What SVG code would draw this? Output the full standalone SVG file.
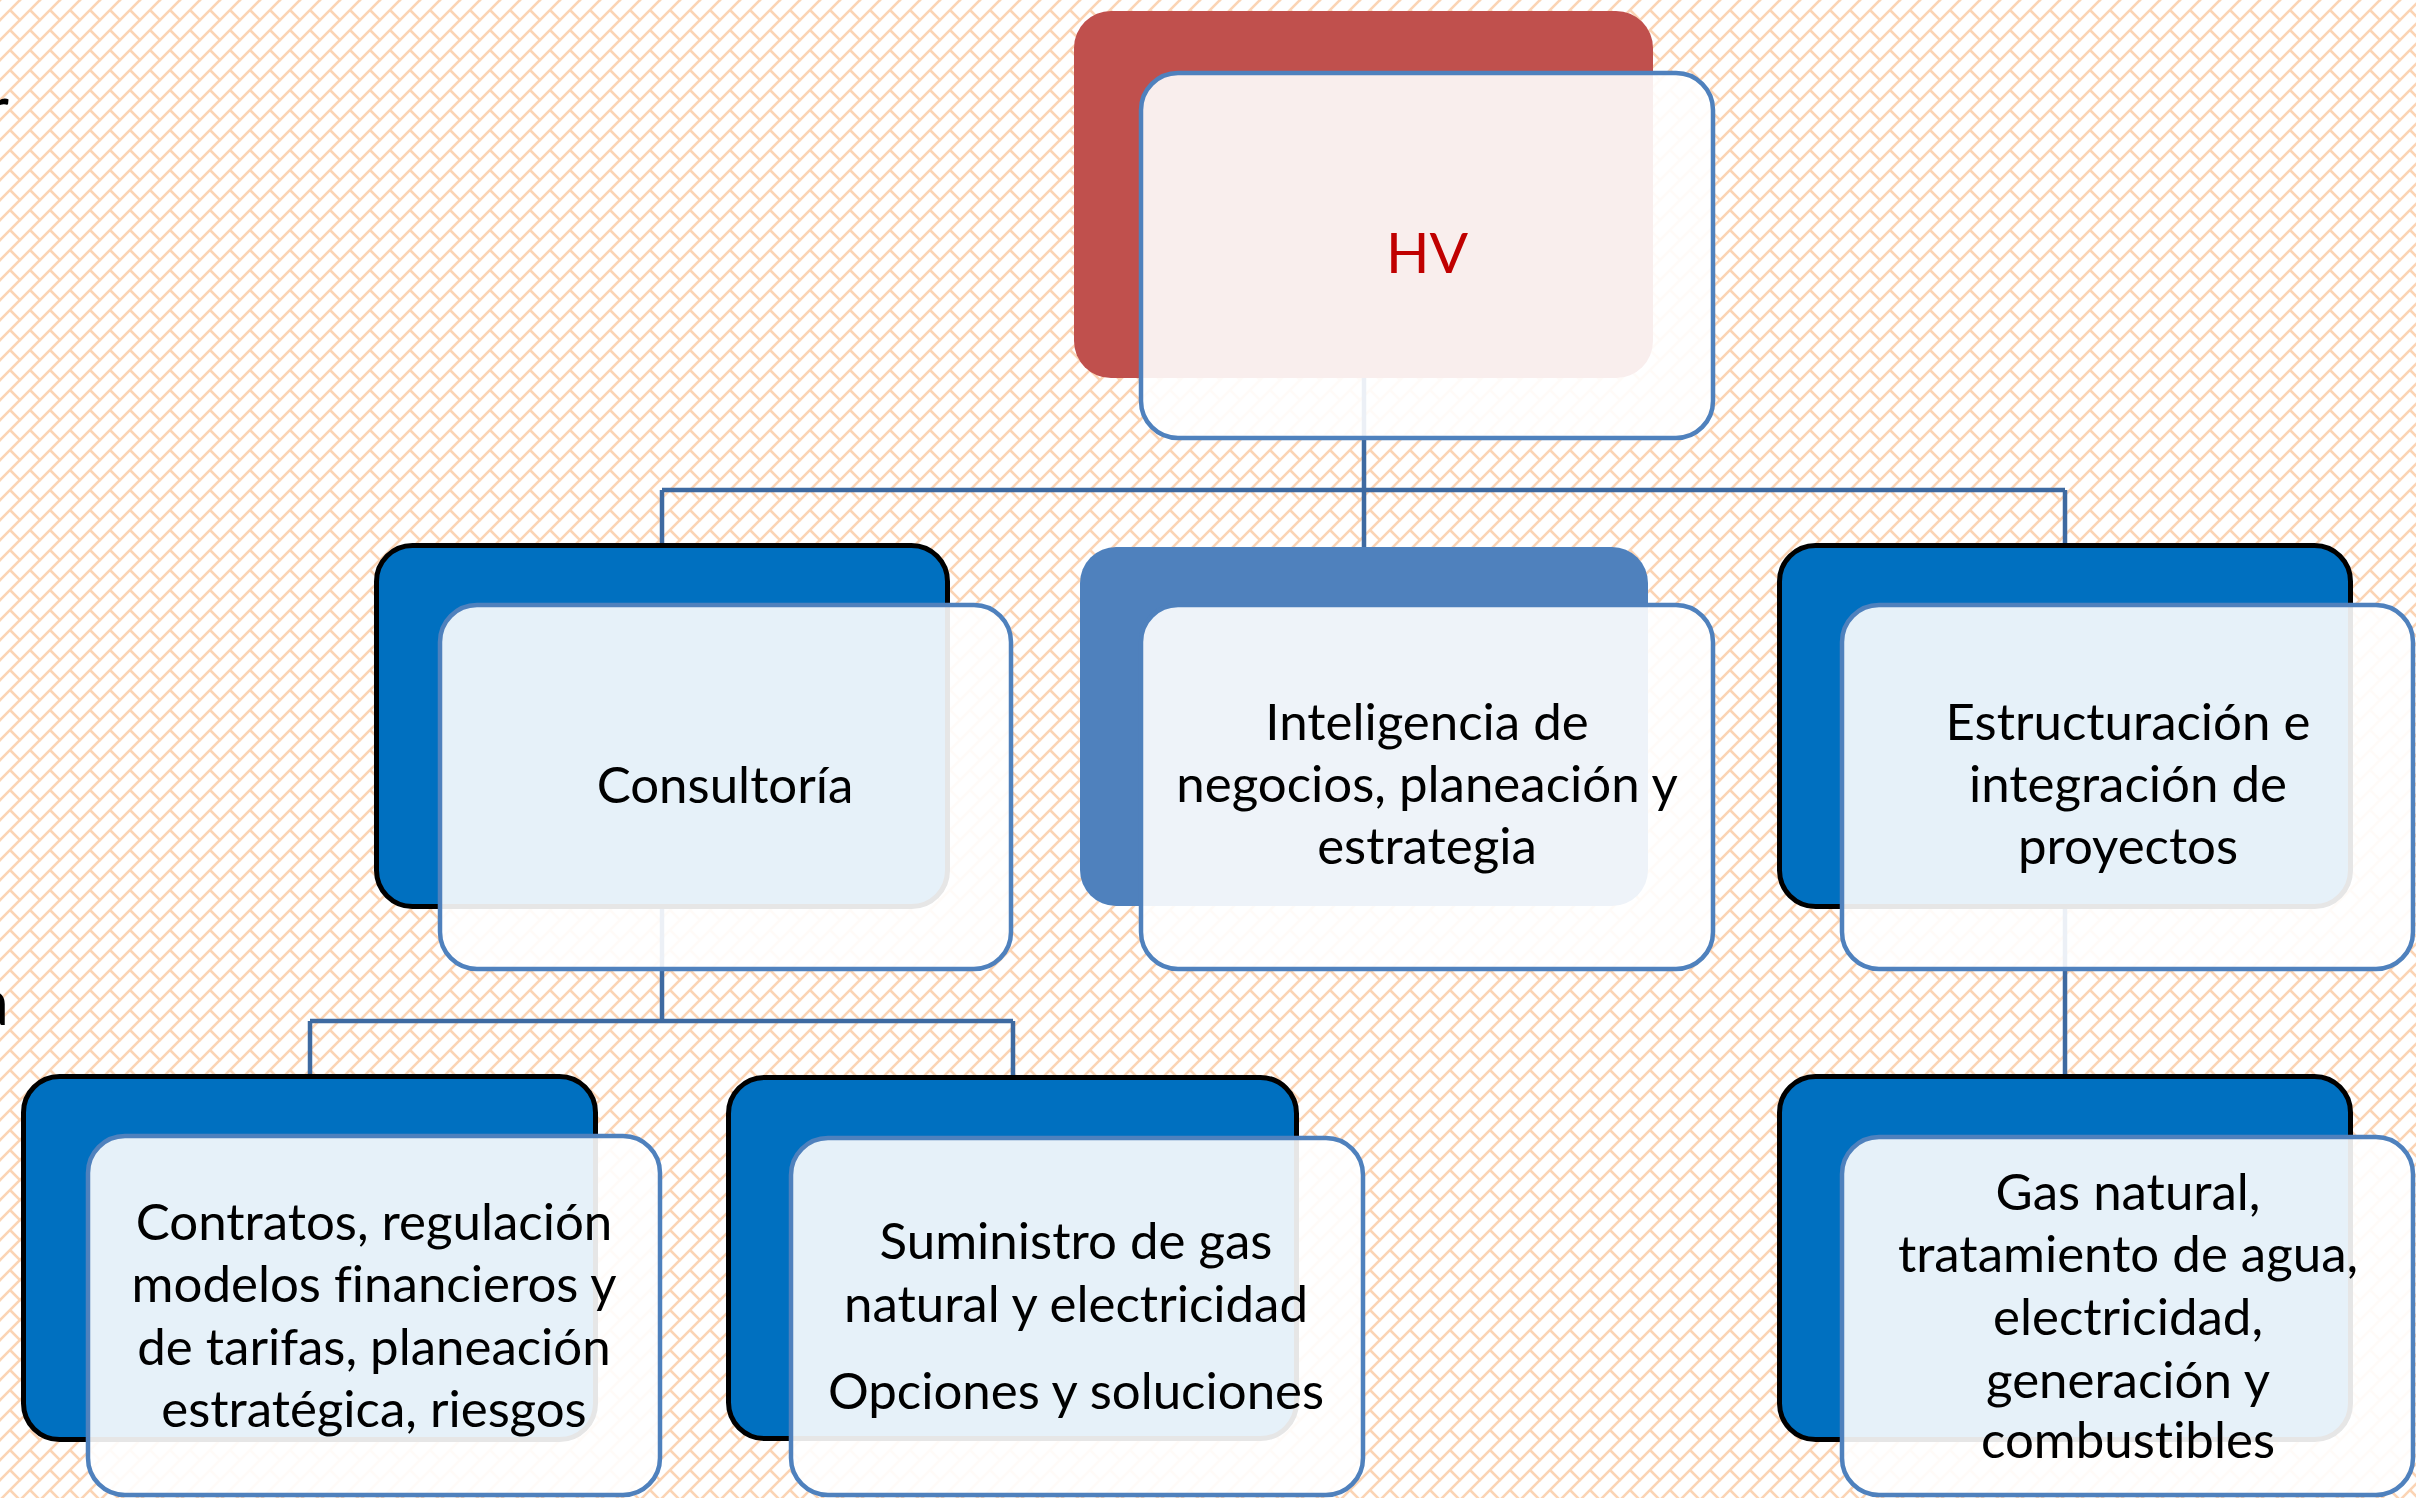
<svg xmlns="http://www.w3.org/2000/svg" width="2416" height="1498" viewBox="0 0 2416 1498">
  <defs>
    <pattern id="brick" x="0" y="0" width="20" height="20" patternUnits="userSpaceOnUse">
      <path d="M-5,25 L25,-5 M-5,5 L5,-5 M15,25 L25,15 M10,10 L21,21 M-1,-1 L1,1" stroke="#fbd4b4" stroke-width="2.6" fill="none"/>
    </pattern>
    <style>
      .conn { stroke: #3e6aa1; stroke-width: 4.5; fill: none; }
      .backBlue { fill: #0070c0; stroke: #000000; stroke-width: 5; }
      .backMid { fill: #4f81bd; }
      .backRed { fill: #c0504d; }
      .front { fill: #ffffff; fill-opacity: 0.9; stroke: #4f81bd; stroke-width: 4.5; }
      text { font-variant-ligatures: none; font-feature-settings: "liga" 0; }
      .t { font-family: Lato, "Open Sans", "Liberation Sans", sans-serif; font-size: 51px; fill: #000000; text-anchor: middle; }
      .hv { font-family: Lato, "Open Sans", "Liberation Sans", sans-serif; font-size: 57px; fill: #c00000; text-anchor: middle; }
      .edge { font-family: Lato, "Liberation Sans", sans-serif; font-size: 66px; fill: #000000; text-anchor: end; }
    </style>
  </defs>

  <rect x="0" y="0" width="2416" height="1498" fill="#ffffff"/>
  <rect x="0" y="0" width="2416" height="1498" fill="url(#brick)"/>

  <text class="edge" x="9" y="132">r</text>
  <text class="edge" x="9" y="1025">a</text>

  <g id="connectors">
    <path class="conn" d="M1364,377 L1364,547"/>
    <path class="conn" d="M662,490 L2065,490"/>
    <path class="conn" d="M662,490 L662,545"/>
    <path class="conn" d="M2065,490 L2065,545"/>
    <path class="conn" d="M662,907 L662,1021"/>
    <path class="conn" d="M310,1021 L1013,1021"/>
    <path class="conn" d="M310,1021 L310,1077"/>
    <path class="conn" d="M1013,1021 L1013,1077"/>
    <path class="conn" d="M2065,907 L2065,1077"/>
  </g>

  <g id="node-hv">
    <rect class="backRed" x="1074" y="11" width="579" height="367" rx="37" ry="37"/>
    <rect class="front" x="1141" y="73" width="572" height="365" rx="37" ry="37"/>
    <text class="hv" x="1427" y="273">HV</text>
  </g>

  <g id="node-consultoria">
    <rect class="backBlue" x="376.5" y="545.5" width="571" height="361" rx="36" ry="36"/>
    <rect class="front" x="440" y="605" width="571" height="364" rx="37" ry="37"/>
    <text class="t" x="725" y="803">Consultoría</text>
  </g>

  <g id="node-inteligencia">
    <rect class="backMid" x="1080" y="547" width="568" height="359" rx="36" ry="36"/>
    <rect class="front" x="1141" y="605" width="572" height="364" rx="37" ry="37"/>
    <text class="t" x="1427" y="740">Inteligencia de</text>
    <text class="t" x="1427" y="802">negocios, planeación y</text>
    <text class="t" x="1427" y="864">estrategia</text>
  </g>

  <g id="node-estructuracion">
    <rect class="backBlue" x="1779.5" y="545.5" width="571" height="361" rx="36" ry="36"/>
    <rect class="front" x="1842" y="605" width="571" height="364" rx="37" ry="37"/>
    <text class="t" x="2128" y="740">Estructuración e</text>
    <text class="t" x="2128" y="802">integración de</text>
    <text class="t" x="2128" y="864">proyectos</text>
  </g>

  <g id="node-contratos">
    <rect class="backBlue" x="23.5" y="1076.5" width="572" height="363" rx="36" ry="36"/>
    <rect class="front" x="88" y="1136" width="572" height="359" rx="37" ry="37"/>
    <text class="t" x="374" y="1240">Contratos, regulación</text>
    <text class="t" x="374" y="1302">modelos financieros y</text>
    <text class="t" x="374" y="1365">de tarifas, planeación</text>
    <text class="t" x="374" y="1427">estratégica, riesgos</text>
  </g>

  <g id="node-suministro">
    <rect class="backBlue" x="728.5" y="1077.5" width="568" height="361" rx="36" ry="36"/>
    <rect class="front" x="791" y="1138" width="572" height="357" rx="37" ry="37"/>
    <text class="t" x="1076" y="1259">Suministro de gas</text>
    <text class="t" x="1076" y="1322">natural y electricidad</text>
    <text class="t" x="1076" y="1409">Opciones y soluciones</text>
  </g>

  <g id="node-gas">
    <rect class="backBlue" x="1779.5" y="1076.5" width="571" height="363" rx="36" ry="36"/>
    <rect class="front" x="1842" y="1137" width="571" height="358" rx="37" ry="37"/>
    <text class="t" x="2128" y="1210">Gas natural,</text>
    <text class="t" x="2128" y="1272">tratamiento de agua,</text>
    <text class="t" x="2128" y="1335">electricidad,</text>
    <text class="t" x="2128" y="1398">generación y</text>
    <text class="t" x="2128" y="1458">combustibles</text>
  </g>
</svg>
